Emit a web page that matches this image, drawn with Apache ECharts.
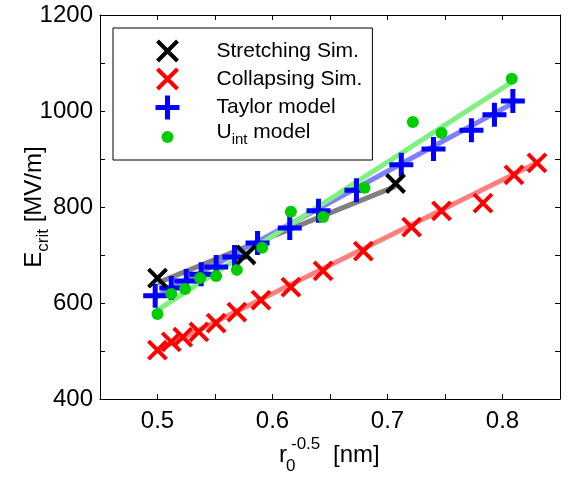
<!DOCTYPE html>
<html>
<head>
<meta charset="utf-8">
<script src="https://cdn.jsdelivr.net/npm/echarts@6/dist/echarts.min.js"></script>
<style>
  html, body { margin: 0; padding: 0; background: #fff; }
  #chart { width: 568px; height: 483px; }
</style>
</head>
<body>
<div id="chart"></div>
<script>
// data
var xStretch = [0.500, 0.577, 0.707];
var yStretch = [652, 700, 849];

var xCollapse = [0.500, 0.512, 0.522, 0.536, 0.551, 0.569, 0.590, 0.616, 0.644, 0.679, 0.721, 0.747, 0.783, 0.810, 0.830];
var yCollapse = [502, 519, 529, 540, 558, 581, 606, 633, 667, 708, 758, 792, 808, 867, 892];

var xTaylor = [0.498, 0.512, 0.525, 0.538, 0.551, 0.567, 0.587, 0.615, 0.640, 0.673, 0.712, 0.740, 0.773, 0.793, 0.809];
var yTaylor = [615, 631, 646, 660, 675, 696, 725, 756, 792, 835, 888, 921, 960, 992, 1021];

var xUint = [0.500, 0.512, 0.524, 0.537, 0.551, 0.569, 0.591, 0.616, 0.644, 0.680, 0.722, 0.747, 0.808];
var yUint = [577, 619, 629, 652, 656, 669, 715, 790, 779, 840, 977, 954, 1067];

// fitted lines (end points)
var fitStretchX = [0.500, 0.707];
var fitStretchY = [642, 843];
var fitCollapseX = [0.500, 0.830];
var fitCollapseY = [501, 892];
var fitTaylorX = [0.498, 0.809];
var fitTaylorY = [612, 1016];
var fitUintX = [0.500, 0.808];
var fitUintY = [585, 1060];

var xTickLabels = ['0.5', '0.6', '0.7', '0.8'];
var yTickLabels = ['400', '600', '800', '1000', '1200'];

var FONT = 'Liberation Sans';
var X_PATH = 'path://M0,0L10,10M10,0L0,10';
var PLUS_PATH = 'path://M5,0L5,10M0,5L10,5';

function pairs(xs, ys) {     // zip x/y arrays
    var out = [];
    for (var i = 0; i < xs.length; i++) {
        out.push([xs[i], ys[i]]);
    }
    return out;
}

function fitLine(xs, ys, color) {
    return {
        type: 'line', data: pairs(xs, ys), symbol: 'none', silent: true, z: 1,
        lineStyle: { color: color, width: 5, opacity: 1 }
    };
}

var chart = echarts.init(document.getElementById('chart'), null, { renderer: 'canvas' });

var axisCommon = {
    axisLine: { show: true, onZero: false, lineStyle: { color: '#000', width: 1 } },
    axisTick: { show: true, inside: true, length: 5, lineStyle: { color: '#000' } },
    splitLine: { show: false }
};

var option = {
    backgroundColor: '#fff',
    animation: false,
    grid: { left: 100, right: 8, top: 15, bottom: 84, containLabel: false, outerBoundsMode: 'none' },
    xAxis: [
        Object.assign({
            type: 'value', min: 0.45, max: 0.85, interval: 0.05, position: 'bottom',
            axisLabel: {
                margin: 10, color: '#000', fontSize: 24, fontFamily: FONT,
                formatter: function (v) {
                    var s = v.toFixed(1);
                    return (Math.abs(v - parseFloat(s)) < 1e-6 && xTickLabels.indexOf(s) >= 0) ? s : '';
                }
            }
        }, axisCommon),
        Object.assign({
            type: 'value', min: 0.45, max: 0.85, interval: 0.05, position: 'top',
            axisLabel: { show: false }
        }, axisCommon)
    ],
    yAxis: [
        Object.assign({
            type: 'value', min: 400, max: 1200, interval: 100, position: 'left',
            axisLabel: {
                margin: 7, color: '#000', fontSize: 24, fontFamily: FONT,
                formatter: function (v) { return yTickLabels.indexOf(String(v)) >= 0 ? String(v) : ''; }
            },
            name: '{b|E}{s|crit}{b| [MV/m]}',
            nameLocation: 'middle', nameGap: 48, nameRotate: 90, nameMoveOverlap: false,
            nameTextStyle: {
                rich: {
                    b: { fontSize: 24, fontFamily: FONT, color: '#000', verticalAlign: 'bottom', padding: [0, 0, 6, 0] },
                    s: { fontSize: 17, fontFamily: FONT, color: '#000', verticalAlign: 'bottom' }
                }
            }
        }, axisCommon),
        Object.assign({
            type: 'value', min: 400, max: 1200, interval: 100, position: 'right',
            axisLabel: { show: false }
        }, axisCommon)
    ],
    legend: {
        orient: 'vertical', left: 113, top: 28,
        padding: [9, 10, 11, 40],
        itemWidth: 88, itemHeight: 24, itemGap: 0,
        backgroundColor: '#fff', borderColor: '#000', borderWidth: 1,
        selectedMode: false,
        textStyle: {
            fontSize: 21, fontFamily: FONT, color: '#000', lineHeight: 24,
            rich: {
                n: { fontSize: 21, fontFamily: FONT, color: '#000', verticalAlign: 'bottom', padding: [0, 0, 4, 0], lineHeight: 20 },
                s: { fontSize: 15, fontFamily: FONT, color: '#000', verticalAlign: 'bottom', lineHeight: 15 }
            }
        },
        formatter: function (name) {
            if (name === 'U_int model') return '{n|U}{s|int}{n| model}';
            return name;
        },
        data: [
            { name: 'Stretching Sim.', icon: 'path://M0,0M12,12M1,1L11,11M11,1L1,11', itemStyle: { color: '#000', borderColor: '#000', borderWidth: 4, opacity: 1 } },
            { name: 'Collapsing Sim.', icon: 'path://M0,0M12,12M1,1L11,11M11,1L1,11', itemStyle: { color: '#f00', borderColor: '#f00', borderWidth: 4, opacity: 1 } },
            { name: 'Taylor model', icon: 'path://M5,0L5,10M0,5L10,5', itemStyle: { color: '#00f', borderColor: '#00f', borderWidth: 5, opacity: 1 } },
            { name: 'U_int model', icon: 'path://M0,0M24,24M6,12A6,6,0,1,1,18,12A6,6,0,1,1,6,12Z', itemStyle: { color: '#00cc00', borderWidth: 0, opacity: 1 } }
        ]
    },
    graphic: [
        { type: 'text', left: 279, top: 443, style: { text: 'r', font: '24px ' + FONT, fill: '#000' } },
        { type: 'text', left: 286, top: 458, style: { text: '0', font: '17px ' + FONT, fill: '#000' } },
        { type: 'text', left: 291, top: 436, style: { text: '-0.5', font: '17px ' + FONT, fill: '#000' } },
        { type: 'text', left: 333, top: 443, style: { text: '[nm]', font: '24px ' + FONT, fill: '#000' } }
    ],
    series: [
        fitLine(fitStretchX, fitStretchY, '#808080'),
        fitLine(fitCollapseX, fitCollapseY, '#ff8080'),
        fitLine(fitTaylorX, fitTaylorY, '#8080ff'),
        fitLine(fitUintX, fitUintY, '#80f080'),
        {
            name: 'Collapsing Sim.', type: 'scatter', z: 3, data: pairs(xCollapse, yCollapse),
            symbol: X_PATH, symbolSize: 18,
            itemStyle: { color: '#f00', borderColor: '#f00', borderWidth: 4, opacity: 1 }
        },
        {
            name: 'Taylor model', type: 'scatter', z: 4, data: pairs(xTaylor, yTaylor),
            symbol: PLUS_PATH, symbolSize: 24,
            itemStyle: { color: '#00f', borderColor: '#00f', borderWidth: 5, opacity: 1 }
        },
        {
            name: 'U_int model', type: 'scatter', z: 5, data: pairs(xUint, yUint),
            symbol: 'circle', symbolSize: 12,
            itemStyle: { color: '#00cc00', borderWidth: 0, opacity: 1 }
        },
        {
            name: 'Stretching Sim.', type: 'scatter', z: 6, data: pairs(xStretch, yStretch),
            symbol: X_PATH, symbolSize: 18,
            itemStyle: { color: '#000', borderColor: '#000', borderWidth: 4, opacity: 1 }
        }
    ]
};

chart.setOption(option);
</script>
</body>
</html>
